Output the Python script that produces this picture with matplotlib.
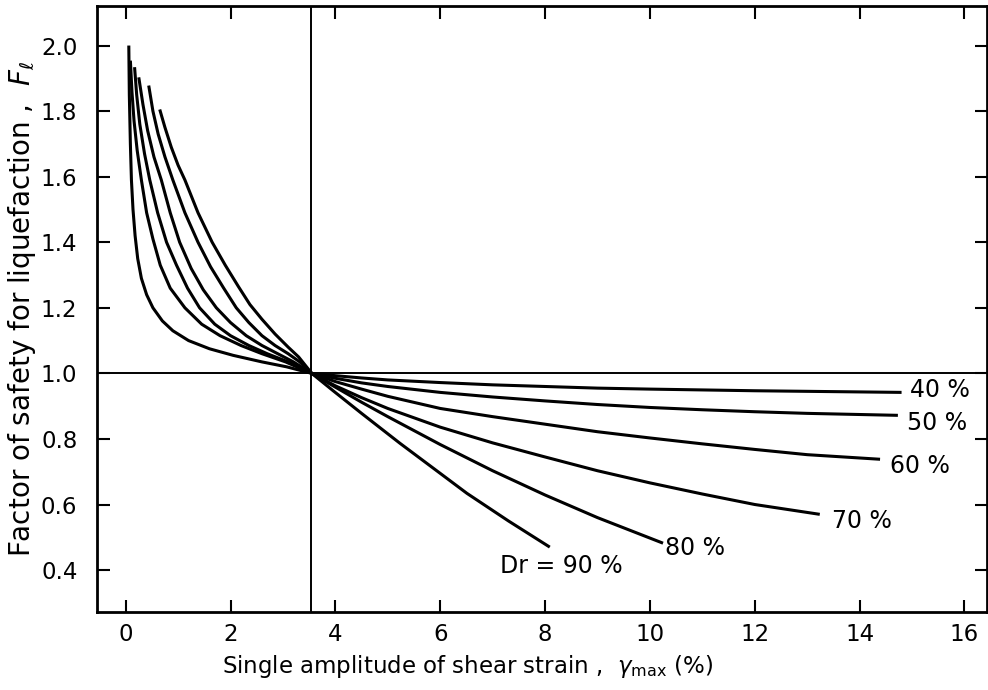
import matplotlib.pyplot as plt

# relative density of each curve (%)
dr = [40, 50, 60, 70, 80, 90]

# strain (%) and factor of safety, left branch then right branch
gam_40 = [0.06, 0.07, 0.09, 0.11, 0.14, 0.18, 0.23, 0.30, 0.40, 0.52, 0.70, 0.90, 1.2, 1.6, 2.05,
          2.6, 3.07, 3.55,
          4.0, 4.5, 5.0, 6.0, 7.0, 8.0, 9.0, 10.0, 12.0, 14.8]
fl_40 = [2.00, 1.85, 1.70, 1.59, 1.50, 1.42, 1.35, 1.29, 1.24, 1.20, 1.16, 1.13, 1.10, 1.075, 1.055,
         1.035, 1.02, 1.0,
         0.993, 0.986, 0.98, 0.972, 0.965, 0.96, 0.955, 0.952, 0.947, 0.942]

gam_50 = [0.09, 0.12, 0.16, 0.22, 0.30, 0.40, 0.52, 0.66, 0.85, 1.13, 1.45, 1.8, 2.2, 2.6, 3.05,
          3.55,
          4.0, 4.5, 5.0, 6.0, 7.0, 8.0, 9.0, 10.0, 11.0, 12.0, 13.0, 14.73]
fl_50 = [1.954, 1.86, 1.77, 1.68, 1.59, 1.49, 1.41, 1.33, 1.26, 1.20, 1.15, 1.115, 1.085, 1.06, 1.035,
         1.0,
         0.985, 0.971, 0.96, 0.942, 0.928, 0.916, 0.905, 0.896, 0.889, 0.883, 0.878, 0.872]

gam_60 = [0.17, 0.21, 0.27, 0.36, 0.46, 0.61, 0.78, 0.97, 1.18, 1.41, 1.7, 2.0, 2.35, 2.7, 3.1,
          3.55,
          4.0, 4.5, 5.0, 6.0, 7.0, 8.0, 9.0, 10.0, 11.0, 12.0, 13.0, 14.39]
fl_60 = [1.934, 1.85, 1.76, 1.67, 1.59, 1.49, 1.40, 1.33, 1.26, 1.20, 1.15, 1.115, 1.085, 1.06, 1.035,
         1.0,
         0.975, 0.952, 0.93, 0.893, 0.868, 0.845, 0.822, 0.803, 0.785, 0.768, 0.752, 0.738]

gam_70 = [0.25, 0.33, 0.42, 0.54, 0.68, 0.85, 1.03, 1.25, 1.48, 1.73, 2.0, 2.3, 2.6, 2.9, 3.2,
          3.55,
          4.0, 4.5, 5.0, 6.0, 7.0, 8.0, 9.0, 10.0, 11.0, 12.0, 13.24]
fl_70 = [1.903, 1.82, 1.74, 1.66, 1.59, 1.49, 1.40, 1.32, 1.255, 1.20, 1.155, 1.115, 1.085, 1.06, 1.035,
         1.0,
         0.962, 0.926, 0.893, 0.836, 0.788, 0.745, 0.703, 0.666, 0.632, 0.60, 0.57]

gam_80 = [0.44, 0.52, 0.62, 0.75, 0.90, 1.13, 1.38, 1.62, 1.87, 2.11, 2.35, 2.6, 2.85, 3.1, 3.32,
          3.55,
          4.0, 4.5, 5.0, 6.0, 7.0, 8.0, 9.0, 10.25]
fl_80 = [1.878, 1.80, 1.73, 1.66, 1.59, 1.49, 1.40, 1.325, 1.26, 1.20, 1.155, 1.115, 1.085, 1.06, 1.035,
         1.0,
         0.958, 0.912, 0.868, 0.783, 0.703, 0.629, 0.56, 0.482]

gam_90 = [0.65, 0.75, 0.87, 1.0, 1.13, 1.38, 1.65, 1.90, 2.15, 2.37, 2.6, 2.85, 3.1, 3.3,
          3.55,
          3.95, 4.5, 5.23, 6.0, 6.51, 7.3, 8.09]
fl_90 = [1.805, 1.75, 1.69, 1.635, 1.59, 1.49, 1.40, 1.33, 1.265, 1.21, 1.165, 1.12, 1.08, 1.05,
         1.0,
         0.948, 0.878, 0.787, 0.695, 0.634, 0.55, 0.47]

curves = [(gam_40, fl_40), (gam_50, fl_50), (gam_60, fl_60),
          (gam_70, fl_70), (gam_80, fl_80), (gam_90, fl_90)]

# label anchor points near the curve ends
lab_x = [14.96, 14.9, 14.58, 13.47, 10.29, 7.14]
lab_y = [0.948, 0.848, 0.716, 0.549, 0.466, 0.412]
lab_txt = ['40 %', '50 %', '60 %', '70 %', '80 %', 'Dr = 90 %']

x_ticks = [0, 2, 4, 6, 8, 10, 12, 14, 16]
y_ticks = [0.4, 0.6, 0.8, 1.0, 1.2, 1.4, 1.6, 1.8, 2.0]

fig = plt.figure(figsize=(9.88, 6.9), dpi=100)
ax = fig.add_axes([0.098, 0.113, 0.901, 0.878])

ax.axhline(1.0, color='black', lw=1.4)
ax.axvline(3.53, color='black', lw=1.4)

for g, f in curves:
    ax.plot(g, f, color='black', lw=2.2, solid_joinstyle='round', solid_capstyle='butt')

for x, y, t in zip(lab_x, lab_y, lab_txt):
    ax.text(x, y, t, fontsize=17, ha='left', va='center')

ax.set_xlim(-0.55, 16.43)
ax.set_ylim(0.272, 2.12)
ax.set_xticks(x_ticks)
ax.set_yticks(y_ticks)
ax.set_yticklabels(['%.1f' % v for v in y_ticks])
ax.tick_params(direction='in', length=9, width=1.5, labelsize=16.5,
               top=True, right=True)
ax.tick_params(axis='x', pad=8)
ax.tick_params(axis='y', pad=14)
for s in ax.spines.values():
    s.set_linewidth(2)

ax.set_xlabel(r'Single amplitude of shear strain ,  $\gamma_{\rm max}$ (%)', fontsize=16.5)
ax.xaxis.set_label_coords(0.416, -0.068)
ax.set_ylabel(r'Factor of safety for liquefaction ,  $F_\ell$', fontsize=20)
ax.yaxis.set_label_coords(-0.066, 0.5)

fig.savefig('out.png')
